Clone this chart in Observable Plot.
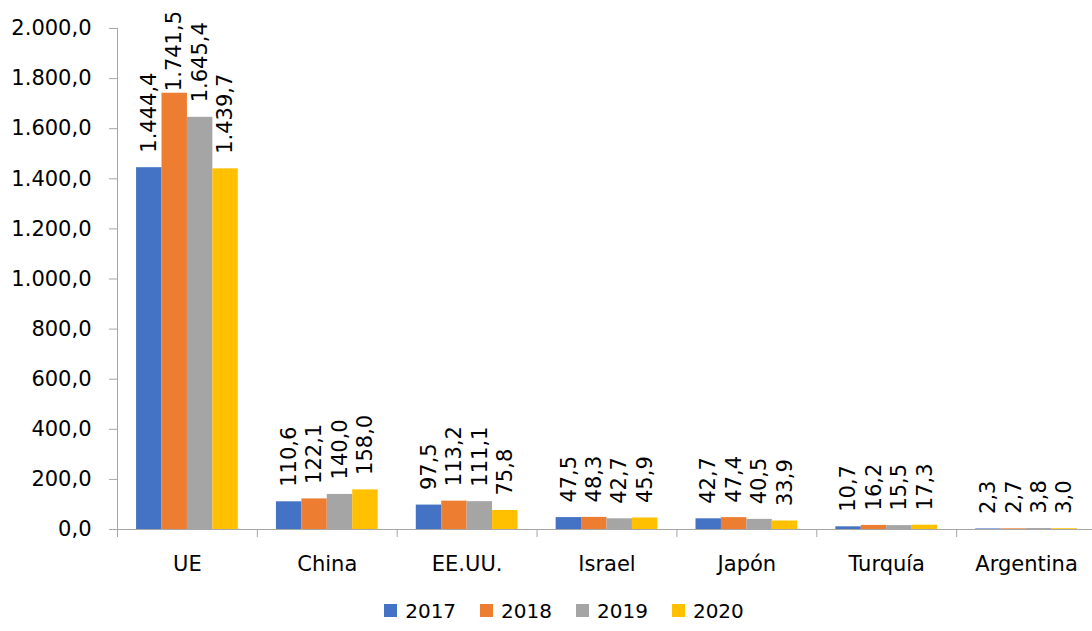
<!DOCTYPE html>
<html>
<head>
<meta charset="utf-8">
<script src="https://cdn.jsdelivr.net/npm/d3@7"></script>
<script src="https://cdn.jsdelivr.net/npm/@observablehq/plot@0.6"></script>
<style>
  html, body { margin: 0; padding: 0; background: #fff; }
  body { width: 1092px; height: 631px; overflow: hidden; font-family: "DejaVu Sans", sans-serif; }
  #legend { display: flex; justify-content: center; align-items: center; height: 41px; margin-left: 36px; font-size: 20px; color: #000; }
  .item { display: flex; align-items: center; margin: 0 12px; }
  .sw { width: 13px; height: 13px; margin-right: 8px; }
</style>
</head>
<body>
<div id="chart"></div>
<div id="legend"></div>
<script>
const categories = ["UE", "China", "EE.UU.", "Israel", "Japón", "Turquía", "Argentina"];
const years = ["2017", "2018", "2019", "2020"];
const colors = ["#4472C4", "#ED7D31", "#A5A5A5", "#FFC000"];
const v2017 = [1444.4, 110.6, 97.5, 47.5, 42.7, 10.7, 2.3];
const v2018 = [1741.5, 122.1, 113.2, 48.3, 47.4, 16.2, 2.7];
const v2019 = [1645.4, 140.0, 111.1, 42.7, 40.5, 15.5, 3.8];
const v2020 = [1439.7, 158.0, 75.8, 45.9, 33.9, 17.3, 3.0];
const yTicks = [0, 200, 400, 600, 800, 1000, 1200, 1400, 1600, 1800, 2000];

const series = [v2017, v2018, v2019, v2020];
const data = [];
categories.forEach((c, i) => years.forEach((y, j) => data.push({cat: c, year: y, value: series[j][i]})));

const locale = d3.formatLocale({decimal: ",", thousands: ".", grouping: [3], currency: ["", ""]});
const fmt = locale.format(",.1f");
const axisGray = "#A6A6A6";
// labels are kept inside the chart area (as the spreadsheet does for the tallest bar)
const labelCap = 1690;

const chart = Plot.plot({
  width: 1092,
  height: 590,
  marginLeft: 117,
  marginRight: -4,
  marginTop: 28,
  marginBottom: 61,
  style: {fontFamily: "DejaVu Sans, sans-serif", fontSize: "21px", background: "#fff", color: "#000", overflow: "visible"},
  fx: {domain: categories, padding: 0, round: false, label: null, axis: null},
  x: {domain: years, paddingInner: 0, paddingOuter: 0.75, round: false, axis: null},
  y: {domain: [0, 2000], label: null, axis: null},
  color: {domain: years, range: colors},
  marks: [
    Plot.axisY({ticks: yTicks, tickFormat: fmt, tickSize: 8, tickPadding: 18, stroke: axisGray, fill: "#000", fontSize: 21, label: null}),
    Plot.axisFx({anchor: "bottom", tickSize: 0, tickPadding: 27, fill: "#000", fontSize: 21, label: null}),
    Plot.barY(data, {fx: "cat", x: "year", y: "value", fill: "year"}),
    Plot.ruleY([0], {stroke: axisGray, strokeWidth: 1}),
    Plot.text(data, {fx: "cat", x: "year", y: d => Math.min(d.value, labelCap), text: d => fmt(d.value), rotate: -90, textAnchor: "start", lineAnchor: "middle", dy: -15, fill: "#000", fontSize: 21})
  ]
});
document.getElementById("chart").appendChild(chart);

// axis line and category separator ticks, placed with the plot's own scales
const fxS = chart.scale("fx");
const yS = chart.scale("y");
const svg = d3.select(chart);
const y0 = yS.apply(0), yTop = yS.apply(2000);
const xStart = fxS.apply(categories[0]);
svg.append("line").attr("x1", xStart + 0.5).attr("x2", xStart + 0.5).attr("y1", yTop).attr("y2", y0)
  .attr("stroke", axisGray);
categories.forEach(c => {
  const x = fxS.apply(c);
  svg.append("line").attr("x1", x + 0.5).attr("x2", x + 0.5).attr("y1", y0).attr("y2", y0 + 8).attr("stroke", axisGray);
});

const legend = document.getElementById("legend");
years.forEach((y, i) => {
  const it = document.createElement("div");
  it.className = "item";
  it.innerHTML = `<span class="sw" style="background:${colors[i]}"></span><span>${y}</span>`;
  legend.appendChild(it);
});
</script>
</body>
</html>
